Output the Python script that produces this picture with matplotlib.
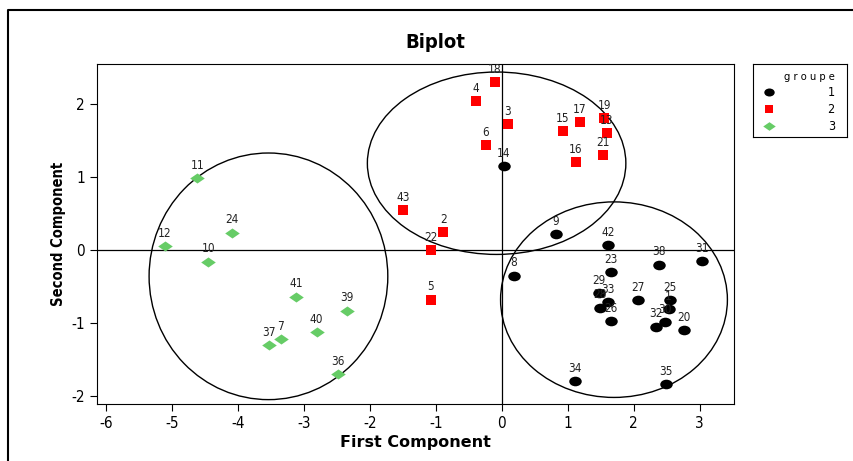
import matplotlib.pyplot as plt
from matplotlib.patches import Ellipse
from matplotlib.lines import Line2D
from matplotlib.path import Path
from matplotlib.transforms import Affine2D

# ======================================
# Data (scores on the first two components)
# ======================================

# groupe 1
ids_g1 = [1, 8, 9, 14, 20, 23, 25, 26, 27, 28, 29, 30, 31, 32, 33, 34, 35, 38, 42]
x_g1 = [2.53, 0.18, 0.82, 0.03, 2.76, 1.66, 2.55, 1.66, 2.06, 1.49, 1.47, 2.47, 3.03, 2.33, 1.61, 1.11, 2.49, 2.38, 1.61]
y_g1 = [-0.81, -0.35, 0.22, 1.15, -1.10, -0.30, -0.69, -0.97, -0.69, -0.79, -0.59, -0.99, -0.15, -1.05, -0.71, -1.80, -1.84, -0.20, 0.07]

# groupe 2
ids_g2 = [2, 3, 4, 5, 6, 13, 15, 16, 17, 18, 19, 21, 22, 43]
x_g2 = [-0.89, 0.09, -0.39, -1.08, -0.24, 1.59, 0.92, 1.12, 1.18, -0.11, 1.55, 1.53, -1.08, -1.50]
y_g2 = [0.25, 1.73, 2.04, -0.68, 1.44, 1.60, 1.63, 1.21, 1.75, 2.30, 1.81, 1.30, 0.00, 0.55]

# groupe 3
ids_g3 = [7, 10, 11, 12, 24, 36, 37, 39, 40, 41]
x_g3 = [-3.35, -4.45, -4.62, -5.11, -4.09, -2.48, -3.53, -2.35, -2.81, -3.12]
y_g3 = [-1.22, -0.16, 0.99, 0.05, 0.24, -1.70, -1.30, -0.83, -1.13, -0.64]

# group ellipses: centre x, centre y, width, height
ell_cx = [1.70, -0.08, -3.54]
ell_cy = [-0.68, 1.19, -0.36]
ell_w = [3.44, 3.92, 3.62]
ell_h = [2.68, 2.50, 3.38]

group_labels = ["1", "2", "3"]
colors = ["black", "red", "#66CC66"]

# SAS-like symbols: flat dot, square, wide diamond
dot = Path.unit_circle().transformed(Affine2D().scale(1.3, 1.0))
diamond = Path([(0, 1), (1.45, 0), (0, -1), (-1.45, 0), (0, 1)],
               [Path.MOVETO, Path.LINETO, Path.LINETO, Path.LINETO, Path.CLOSEPOLY])
markers = [dot, "s", diamond]
msize = [9, 7.5, 10.5]
leg_msize = [7.5, 6, 9]

# ======================================
# Plot
# ======================================
plt.rcParams['font.family'] = ['DejaVu Sans']
plt.rcParams['font.stretch'] = 'condensed'
plt.rcParams['axes.unicode_minus'] = False

fig = plt.figure(figsize=(8.54, 4.61), dpi=100)
ax = fig.add_axes([97/854, 1-404/461, 637/854, 340/461])

groups = [(ids_g1, x_g1, y_g1), (ids_g2, x_g2, y_g2), (ids_g3, x_g3, y_g3)]
for (ids, xs, ys), c, m, ms in zip(groups, colors, markers, msize):
    ax.plot(xs, ys, linestyle='none', marker=m, color=c, markersize=ms,
            markeredgewidth=0, zorder=3)
    for i, xx, yy in zip(ids, xs, ys):
        ax.annotate(str(i), (xx, yy), xytext=(0, 4.5), textcoords='offset points',
                    ha='center', va='bottom', fontsize=8.5, color='#222222', zorder=4)

for cx, cy, w, h in zip(ell_cx, ell_cy, ell_w, ell_h):
    ax.add_patch(Ellipse((cx, cy), w, h, fill=False, edgecolor='black', linewidth=1))

ax.axhline(0, color='black', linewidth=0.9)
ax.axvline(0, color='black', linewidth=0.9)

ax.set_xlim(-6.14, 3.52)
ax.set_ylim(-2.11, 2.55)
ax.set_xticks(range(-6, 4))
ax.set_yticks(range(-2, 3))
ax.tick_params(direction='out', length=5, labelsize=11)

ax.set_xlabel("First Component", fontsize=11.5, fontweight='bold',
              fontstretch='normal', labelpad=3)
ax.set_ylabel("Second Component", fontsize=10.5, fontweight='bold')
fig.text(435/854, 1-43/461, "Biplot", ha='center', va='center',
         fontsize=14.5, fontweight='bold')

# legend box
lax = fig.add_axes([753/854, 1-137/461, 94/854, 73/461])
lax.set_xlim(0, 1)
lax.set_ylim(0, 1)
lax.set_xticks([])
lax.set_yticks([])
lax.text(0.87, 0.82, "g r o u p e", ha='right', va='center', fontsize=8)
for k, (lab, c, m, ms) in enumerate(zip(group_labels, colors, markers, leg_msize)):
    yk = 0.61 - k * 0.23
    lax.plot([0.17], [yk], marker=m, color=c, markersize=ms, markeredgewidth=0, linestyle='none')
    lax.text(0.87, yk, lab, ha='right', va='center', fontsize=9)

# outer frame (top and left edges)
fig.add_artist(Line2D([8/854, 8/854, 1], [0, 1-10/461, 1-10/461],
                      transform=fig.transFigure, color='black', linewidth=1.5))

plt.savefig("out.png", dpi=100)
